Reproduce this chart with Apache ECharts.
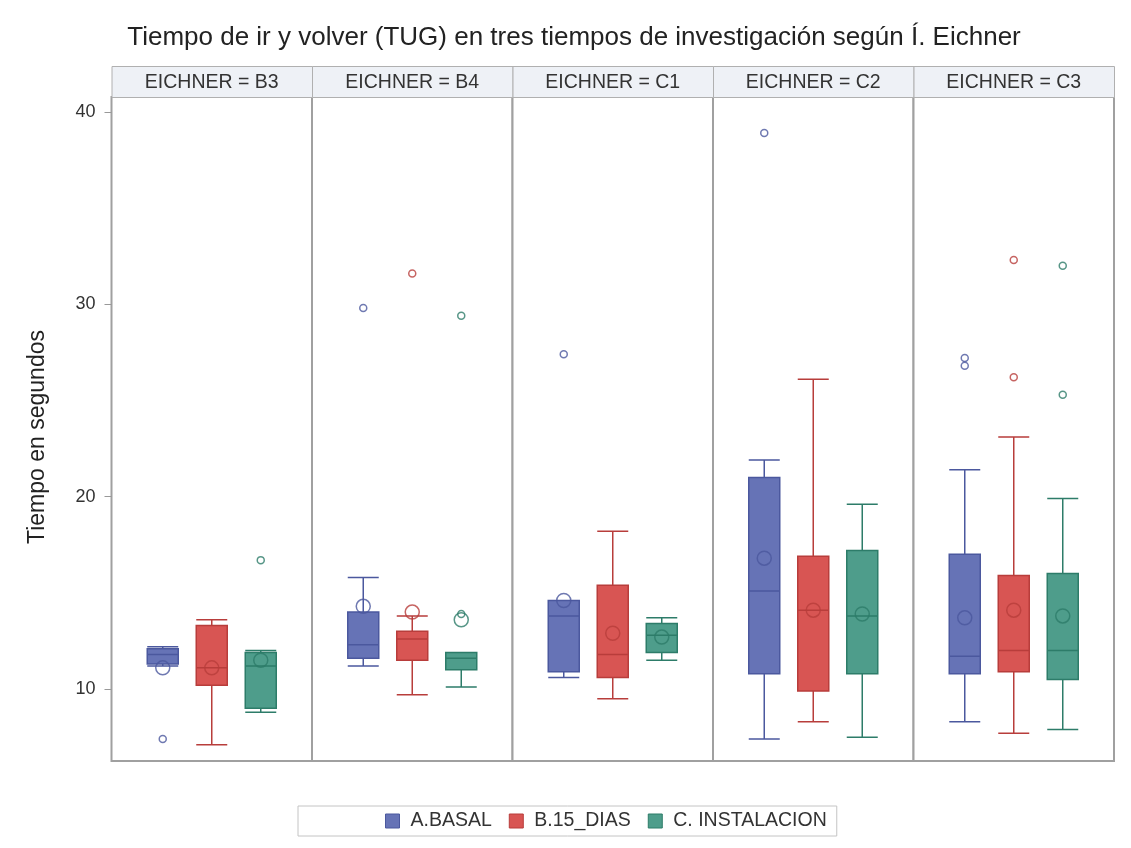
<!DOCTYPE html>
<html>
<head>
<meta charset="utf-8">
<script src="https://cdn.jsdelivr.net/npm/echarts@6/dist/echarts.min.js"></script>
<style>
  html, body { margin: 0; padding: 0; background: #fff; }
  #chart { width: 1131px; height: 848px; }
</style>
</head>
<body>
<div id="chart"></div>
<script>
// panels (EICHNER grade) and groups (time of study)
var panels = ['EICHNER = B3', 'EICHNER = B4', 'EICHNER = C1', 'EICHNER = C2', 'EICHNER = C3'];
var groups = ['A.BASAL', 'B.15_DIAS', 'C. INSTALACION'];
var yTicks = [10, 20, 30, 40];

// [min, Q1, median, Q3, max] for each panel
var basalBox = [[11.2, 11.3, 11.8, 12.1, 12.2], [11.2, 11.6, 12.3, 14.0, 15.8], [10.6, 10.9, 13.8, 14.6, 14.6], [7.4, 10.8, 15.1, 21.0, 21.9], [8.3, 10.8, 11.7, 17.0, 21.4]];
var dias15Box = [[7.1, 10.2, 11.1, 13.3, 13.6], [9.7, 11.5, 12.6, 13.0, 13.8], [9.5, 10.6, 11.8, 15.4, 18.2], [8.3, 9.9, 14.1, 16.9, 26.1], [7.7, 10.9, 12.0, 15.9, 23.1]];
var instalBox = [[8.8, 9.0, 11.2, 11.9, 12.0], [10.1, 11.0, 11.6, 11.9, 11.9], [11.5, 11.9, 12.8, 13.4, 13.7], [7.5, 10.8, 13.8, 17.2, 19.6], [7.9, 10.5, 12.0, 16.0, 19.9]];

// means
var basalMean = [11.1, 14.3, 14.6, 16.8, 13.7];
var dias15Mean = [11.1, 14.0, 12.9, 14.1, 14.1];
var instalMean = [11.5, 13.6, 12.7, 13.9, 13.8];

// outliers
var basalOut = [[7.4], [29.8], [27.4], [38.9], [27.2, 26.8]];
var dias15Out = [[], [31.6], [], [], [32.3, 26.2]];
var instalOut = [[16.7], [29.4, 13.9], [], [], [32.0, 25.3]];

var boxes = [basalBox, dias15Box, instalBox];
var means = [basalMean, dias15Mean, instalMean];
var outs = [basalOut, dias15Out, instalOut];

var fills = ['#6673b6', '#d85553', '#4e9d8b'];
var edges = ['#4b589e', '#b83d3b', '#2d7c69'];

var panelLeft = 111.5, panelW = 200.5, panelTop = 97, panelH = 664;
var headTop = 66, headH = 31;
var boxStep = 49;
var half = panelW / 2 / boxStep;
var yMin = 6.26, yMax = 40.77;
var font = '"Liberation Sans", Arial, sans-serif';

var grids = [], xAxes = [], yAxes = [], boxSeries = [], dotSeries = [], graphics = [];

panels.forEach(function (p, i) {
    var left = panelLeft + i * panelW;
    grids.push({
        left: left, top: panelTop, width: panelW, height: panelH,
        show: true, borderColor: '#a0a0a0', borderWidth: 2, backgroundColor: '#fff'
    });
    yAxes.push({
        type: 'value', gridIndex: i, min: yMin, max: yMax,
        splitLine: { show: false },
        axisLine: { show: false, onZero: false },
        axisTick: { show: i === 0, length: 7, lineStyle: { color: '#999' }, customValues: yTicks },
        axisLabel: { show: i === 0, margin: 16, fontSize: 18, color: '#333', fontFamily: font, customValues: yTicks }
    });
    // header strip
    graphics.push({
        type: 'rect', left: left, top: headTop,
        shape: { width: panelW, height: headH },
        style: { fill: '#eef1f6', stroke: '#b0b0b0', lineWidth: 1 }
    });
    graphics.push({
        type: 'text', x: left + panelW / 2, y: headTop + headH / 2 + 1,
        style: { text: p, fontSize: 19.5, fill: '#333', fontFamily: font, align: 'center', verticalAlign: 'middle' }
    });

    groups.forEach(function (g, k) {
        var xi = i * 3 + k;
        xAxes.push({
            type: 'value', gridIndex: i, min: 1 - half, max: 1 + half, show: false
        });
        var b = boxes[k][i];
        boxSeries.push({
            name: g, type: 'boxplot', xAxisIndex: xi, yAxisIndex: i,
            boxWidth: [31, 31],
            itemStyle: { color: fills[k], borderColor: edges[k], borderWidth: 1.5 },
            emphasis: { disabled: true },
            z: 2,
            data: [[k, b[0], b[1], b[2], b[3], b[4]]]
        });
        dotSeries.push({
            name: g, type: 'scatter', xAxisIndex: xi, yAxisIndex: i,
            symbol: 'circle', symbolSize: 14, z: 3, silent: true,
            itemStyle: { color: 'rgba(0,0,0,0)', borderColor: edges[k], borderWidth: 1.5 },
            data: [[k, means[k][i]]]
        });
        dotSeries.push({
            name: g, type: 'scatter', xAxisIndex: xi, yAxisIndex: i,
            symbol: 'circle', symbolSize: 7, z: 3, silent: true,
            itemStyle: { color: 'rgba(0,0,0,0)', borderColor: edges[k], borderWidth: 1.5 },
            data: outs[k][i].map(function (v) { return [k, v]; })
        });
    });
});

// y axis title
graphics.push({
    type: 'text', x: 38, y: 437, rotation: Math.PI / 2,
    style: { text: 'Tiempo en segundos', fontSize: 23, fill: '#222', fontFamily: font, align: 'center', verticalAlign: 'middle' }
});

var chart = echarts.init(document.getElementById('chart'));
var option = {
    animation: false,
    backgroundColor: '#fff',
    title: {
        text: 'Tiempo de ir y volver (TUG) en tres tiempos de investigación según Í. Eichner',
        left: 569, top: 20, textAlign: 'center',
        textStyle: { fontSize: 26, fontWeight: 'normal', color: '#222', fontFamily: font }
    },
    legend: {
        data: groups.map(function (g, k) {
            return { name: g, icon: 'rect', itemStyle: { color: fills[k], borderColor: edges[k], borderWidth: 1 } };
        }),
        left: 298, top: 806,
        padding: [5, 10, 5, 87],
        borderColor: '#c4c4c4', borderWidth: 1,
        itemWidth: 14, itemHeight: 14, itemGap: 17,
        textStyle: { fontSize: 19.5, lineHeight: 16, color: '#333', fontFamily: font, padding: [0, 0, 0, 6] }
    },
    grid: grids,
    xAxis: xAxes,
    yAxis: yAxes,
    graphic: graphics,
    series: boxSeries.concat(dotSeries)
};
chart.setOption(option);
</script>
</body>
</html>
